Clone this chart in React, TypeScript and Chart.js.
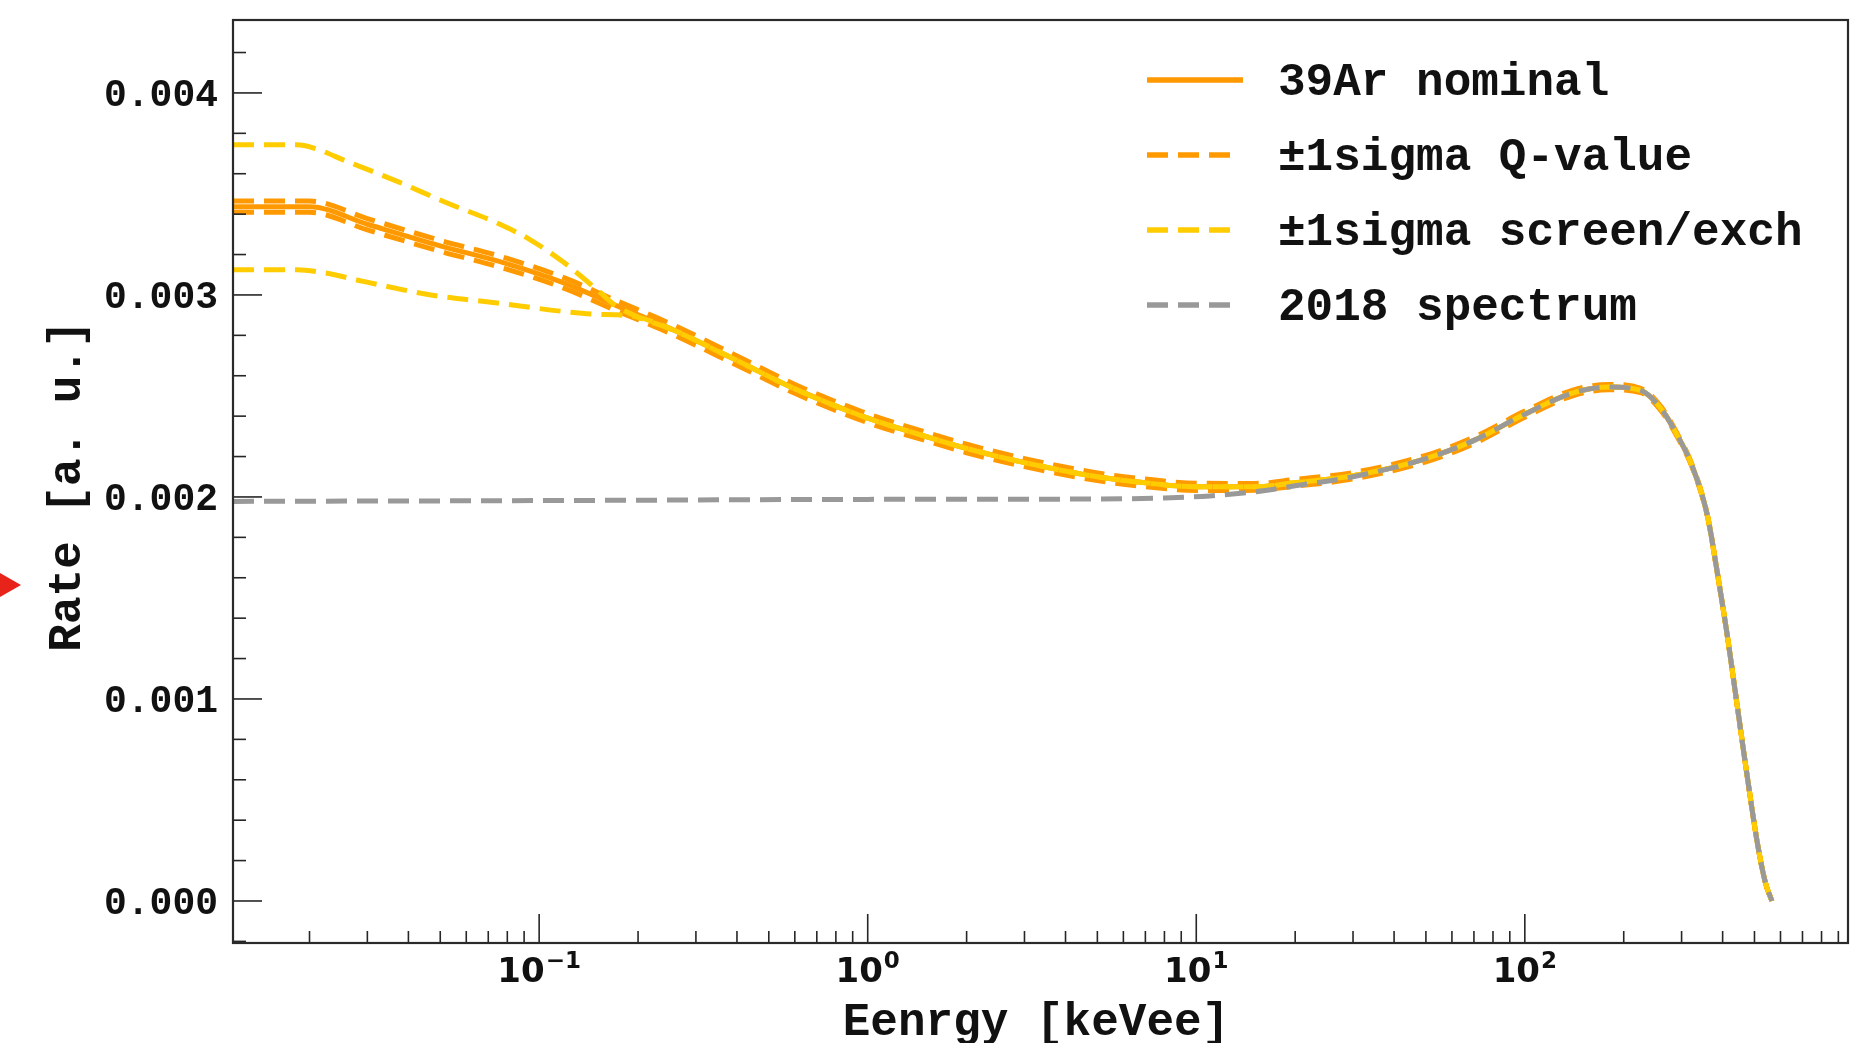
import { useEffect, useRef } from "react";
import { Chart, registerables } from "chart.js";

Chart.register(...registerables);

const W = 1876;
const H = 1043;

// ---------- data (rates in units of 1e-3 a.u., energies in keVee) ----------
const energyNominal = [0.0117, 0.02, 0.03, 0.05, 0.08, 0.12, 0.17, 0.25, 0.4, 0.6, 1, 1.5, 2, 3, 5, 7, 10, 15, 20, 30, 50, 70, 100, 140, 180, 225, 260, 290, 325, 360, 385, 413, 443, 475, 510, 540, 565];
const rateNominal = [3.437, 3.437, 3.350, 3.243, 3.154, 3.057, 2.950, 2.835, 2.675, 2.535, 2.390, 2.300, 2.240, 2.170, 2.100, 2.070, 2.050, 2.050, 2.070, 2.105, 2.190, 2.280, 2.410, 2.515, 2.544, 2.527, 2.436, 2.310, 2.142, 1.903, 1.629, 1.317, 0.967, 0.619, 0.289, 0.090, 0.000];

const rateQHigh = [3.465, 3.465, 3.378, 3.270, 3.181, 3.083, 2.975, 2.859, 2.698, 2.557, 2.412, 2.321, 2.261, 2.190, 2.119, 2.089, 2.068, 2.067, 2.087, 2.121, 2.206, 2.296, 2.425, 2.529, 2.557, 2.538, 2.446, 2.318, 2.149, 1.908, 1.633, 1.320, 0.969, 0.620, 0.289, 0.090, 0.000];
const rateQLow = [3.409, 3.409, 3.322, 3.216, 3.127, 3.031, 2.925, 2.811, 2.652, 2.513, 2.368, 2.279, 2.219, 2.150, 2.081, 2.051, 2.032, 2.033, 2.053, 2.089, 2.174, 2.264, 2.395, 2.501, 2.531, 2.516, 2.426, 2.302, 2.135, 1.898, 1.625, 1.314, 0.965, 0.618, 0.289, 0.090, 0.000];

const energyScreenHigh = [0.0117, 0.0183, 0.0206, 0.026, 0.037, 0.0525, 0.0745, 0.094, 0.119, 0.15, 0.17, 0.2, 0.25, 0.4, 0.6, 1, 1.5, 2, 3, 5, 7, 10, 15, 20, 30, 50, 70, 100, 140, 180, 225, 260, 290, 325, 360, 385, 413, 443, 475, 510, 540, 565];
const rateScreenHigh = [3.743, 3.743, 3.727, 3.661, 3.562, 3.455, 3.356, 3.273, 3.160, 3.026, 2.950, 2.890, 2.832, 2.675, 2.535, 2.390, 2.300, 2.240, 2.170, 2.100, 2.070, 2.050, 2.050, 2.070, 2.105, 2.190, 2.280, 2.410, 2.515, 2.544, 2.527, 2.436, 2.310, 2.142, 1.903, 1.629, 1.317, 0.967, 0.619, 0.289, 0.090, 0.000];

const energyScreenLow = [0.0117, 0.0183, 0.0221, 0.0292, 0.0468, 0.0745, 0.119, 0.15, 0.17, 0.2, 0.25, 0.4, 0.6, 1, 1.5, 2, 3, 5, 7, 10, 15, 20, 30, 50, 70, 100, 140, 180, 225, 260, 290, 325, 360, 385, 413, 443, 475, 510, 540, 565];
const rateScreenLow = [3.125, 3.125, 3.110, 3.067, 3.000, 2.960, 2.918, 2.904, 2.902, 2.890, 2.834, 2.675, 2.535, 2.390, 2.300, 2.240, 2.170, 2.100, 2.070, 2.050, 2.050, 2.070, 2.105, 2.190, 2.280, 2.410, 2.515, 2.544, 2.527, 2.436, 2.310, 2.142, 1.903, 1.629, 1.317, 0.967, 0.619, 0.289, 0.090, 0.000];

const energy2018 = [0.0117, 0.1, 1, 5, 8, 11, 15, 20, 30, 50, 70, 100, 140, 180, 225, 260, 290, 325, 360, 385, 413, 443, 475, 510, 540, 565];
const rate2018 = [1.978, 1.982, 1.988, 1.990, 1.995, 2.005, 2.025, 2.055, 2.100, 2.190, 2.280, 2.410, 2.515, 2.544, 2.527, 2.436, 2.310, 2.142, 1.903, 1.629, 1.317, 0.967, 0.619, 0.289, 0.090, 0.000];

// ---------- axes ----------
const xMin = 0.0117;
const xMax = 963;
const yMin = -0.000208;
const yMax = 0.004361;

const xMajorTicks = [0.1, 1, 10, 100];
const xTickExponents = ["\u22121", "0", "1", "2"];
const xMinorTicks = [
  0.02, 0.03, 0.04, 0.05, 0.06, 0.07, 0.08, 0.09,
  0.2, 0.3, 0.4, 0.5, 0.6, 0.7, 0.8, 0.9,
  2, 3, 4, 5, 6, 7, 8, 9,
  20, 30, 40, 50, 60, 70, 80, 90,
  200, 300, 400, 500, 600, 700, 800, 900,
];
const yMajorTicks = [0, 0.001, 0.002, 0.003, 0.004];
const yTickLabels = ["0.000", "0.001", "0.002", "0.003", "0.004"];
const yMinorTicks = [
  -0.0002, 0.0002, 0.0004, 0.0006, 0.0008, 0.0012, 0.0014, 0.0016, 0.0018,
  0.0022, 0.0024, 0.0026, 0.0028, 0.0032, 0.0034, 0.0036, 0.0038, 0.0042,
];

const xTitle = "Eenrgy [keVee]";
const yTitle = "Rate [a. u.]";

const ORANGE = "#ff9900";
const YELLOW = "#ffcc00";
const GRAY = "#999999";
const DASH = [21, 10];
const LW = 5;

const MONO = '"Liberation Mono", "Courier New", monospace';

function pts(e: number[], r: number[]) {
  return e.map((x, i) => ({ x, y: r[i] / 1000 }));
}

const overlay = {
  id: "overlay",
  beforeDraw(chart: any) {
    const ctx = chart.ctx;
    ctx.save();
    ctx.fillStyle = "#ffffff";
    ctx.fillRect(0, 0, chart.width, chart.height);
    ctx.restore();
  },
  afterDraw(chart: any) {
    const ctx: CanvasRenderingContext2D = chart.ctx;
    const a = chart.chartArea;
    const x = chart.scales.x;
    const y = chart.scales.y;
    ctx.save();

    // ticks (inside)
    ctx.strokeStyle = "#262626";
    ctx.lineWidth = 1.6;
    const seg = (x1: number, y1: number, x2: number, y2: number) => {
      ctx.beginPath();
      ctx.moveTo(x1, y1);
      ctx.lineTo(x2, y2);
      ctx.stroke();
    };
    yMinorTicks.forEach((v) => {
      const py = y.getPixelForValue(v);
      seg(a.left, py, a.left + 13, py);
    });
    yMajorTicks.forEach((v) => {
      const py = y.getPixelForValue(v);
      seg(a.left, py, a.left + 29, py);
    });
    xMinorTicks.forEach((v) => {
      const px = x.getPixelForValue(v);
      seg(px, a.bottom, px, a.bottom - 12);
    });
    xMajorTicks.forEach((v) => {
      const px = x.getPixelForValue(v);
      seg(px, a.bottom, px, a.bottom - 29);
    });

    // frame
    ctx.strokeStyle = "#2a2a2a";
    ctx.lineWidth = 2.2;
    ctx.strokeRect(a.left, a.top, a.right - a.left, a.bottom - a.top);

    // y tick labels
    ctx.fillStyle = "#111111";
    ctx.font = `bold 38px ${MONO}`;
    ctx.textAlign = "right";
    ctx.textBaseline = "alphabetic";
    yMajorTicks.forEach((v, i) => {
      const py = y.getPixelForValue(v);
      ctx.fillText(yTickLabels[i], a.left - 15, py + 13);
    });

    // x tick labels 10^n
    xMajorTicks.forEach((v, i) => {
      const px = x.getPixelForValue(v);
      ctx.font = 'bold 34px "DejaVu Sans", sans-serif';
      const wBase = ctx.measureText("10").width;
      ctx.font = 'bold 23px "DejaVu Sans", sans-serif';
      const wExp = ctx.measureText(xTickExponents[i]).width;
      const start = px - (wBase + wExp + 1) / 2;
      ctx.textAlign = "left";
      ctx.font = 'bold 34px "DejaVu Sans", sans-serif';
      ctx.fillText("10", start, 982);
      ctx.font = 'bold 23px "DejaVu Sans", sans-serif';
      ctx.fillText(xTickExponents[i], start + wBase + 1, 968);
    });

    // axis titles
    ctx.font = `bold 46px ${MONO}`;
    ctx.textAlign = "center";
    ctx.fillText(xTitle, 1036, 1035);
    ctx.save();
    ctx.translate(80, 486);
    ctx.rotate(-Math.PI / 2);
    ctx.fillText(yTitle, 0, 0);
    ctx.restore();

    // legend
    const rows = [80, 155, 230, 305];
    const items = chart.data.datasets.filter((d: any) => d.inLegend);
    items.forEach((d: any, i: number) => {
      const ry = rows[i];
      ctx.save();
      ctx.strokeStyle = d.borderColor;
      ctx.lineWidth = d.borderWidth + 0.5;
      ctx.lineCap = "butt";
      const dashed = d.borderDash && d.borderDash.length > 0;
      ctx.setLineDash(dashed ? d.borderDash : []);
      ctx.beginPath();
      ctx.moveTo(1147, ry);
      ctx.lineTo(dashed ? 1231 : 1243, ry);
      ctx.stroke();
      ctx.restore();
      ctx.fillStyle = "#111111";
      ctx.font = `bold 46px ${MONO}`;
      ctx.textAlign = "left";
      ctx.fillText(d.label, 1278, ry + 15);
    });

    // red marker at the left edge
    ctx.fillStyle = "#e8231a";
    ctx.beginPath();
    ctx.moveTo(0, 573);
    ctx.lineTo(21, 585);
    ctx.lineTo(0, 597);
    ctx.closePath();
    ctx.fill();

    ctx.restore();
  },
};

export default function App() {
  const ref = useRef<HTMLCanvasElement>(null);

  useEffect(() => {
    if (!ref.current) return;
    const common = {
      pointRadius: 0,
      pointHoverRadius: 0,
      fill: false,
      cubicInterpolationMode: "monotone" as const,
      borderWidth: LW,
      borderCapStyle: "butt" as const,
    };
    const chart = new Chart(ref.current, {
      type: "line",
      data: {
        datasets: [
          { ...common, label: "39Ar nominal", data: pts(energyNominal, rateNominal), borderColor: ORANGE, borderDash: [], order: 4, inLegend: true } as any,
          { ...common, label: "\u00b11sigma Q-value", data: pts(energyNominal, rateQHigh), borderColor: ORANGE, borderDash: DASH, order: 3, inLegend: true } as any,
          { ...common, label: "\u00b11sigma Q-value (low)", data: pts(energyNominal, rateQLow), borderColor: ORANGE, borderDash: DASH, order: 3, inLegend: false } as any,
          { ...common, label: "\u00b11sigma screen/exch", data: pts(energyScreenHigh, rateScreenHigh), borderColor: YELLOW, borderDash: DASH, order: 2, inLegend: true } as any,
          { ...common, label: "\u00b11sigma screen/exch (low)", data: pts(energyScreenLow, rateScreenLow), borderColor: YELLOW, borderDash: DASH, order: 2, inLegend: false } as any,
          { ...common, label: "2018 spectrum", data: pts(energy2018, rate2018), borderColor: GRAY, borderDash: DASH, order: 1, inLegend: true } as any,
        ],
      },
      options: {
        responsive: false,
        animation: false,
        devicePixelRatio: 1,
        parsing: false as any,
        normalized: true,
        layout: { padding: { left: 0, top: 20, right: 28, bottom: 0 } },
        plugins: {
          legend: { display: false },
          tooltip: { enabled: false },
        },
        events: [],
        scales: {
          x: {
            type: "logarithmic",
            min: xMin,
            max: xMax,
            ticks: { display: false },
            grid: { display: false },
            border: { display: false },
            afterFit: (s: any) => {
              s.height = 100;
            },
          },
          y: {
            type: "linear",
            min: yMin,
            max: yMax,
            ticks: { display: false },
            grid: { display: false },
            border: { display: false },
            afterFit: (s: any) => {
              s.width = 233;
            },
          },
        },
      },
      plugins: [overlay],
    });
    return () => chart.destroy();
  }, []);

  return (
    <div style={{ position: "absolute", left: 0, top: 0, width: W, height: H, background: "#fff" }}>
      <canvas ref={ref} width={W} height={H} style={{ display: "block", width: W, height: H }} />
    </div>
  );
}
